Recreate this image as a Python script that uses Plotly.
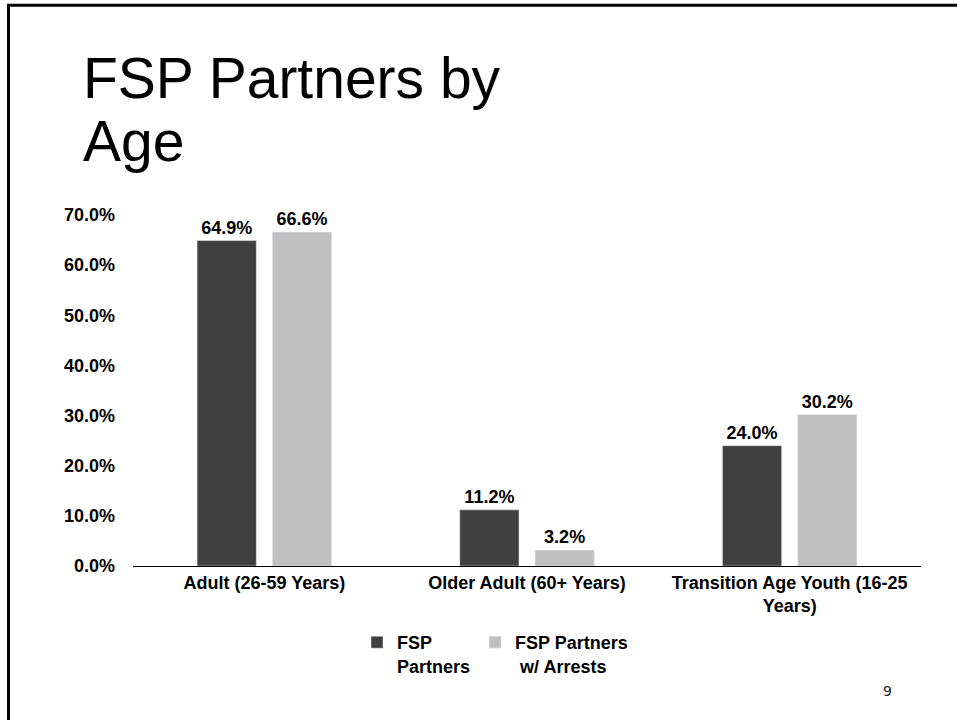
import plotly.graph_objects as go

# data
categories = ["Adult (26-59 Years)", "Older Adult (60+ Years)", "Transition Age Youth (16-25<br>Years)"]
fsp_partners = [64.9, 11.2, 24.0]
fsp_arrests = [66.6, 3.2, 30.2]
y_ticks = [0, 10, 20, 30, 40, 50, 60, 70]
y_tick_labels = ["%.1f%%" % v for v in y_ticks]

W, H = 957, 720
L, R, T, B = 133, 921, 215, 566  # plot area in pixels

def px_x(x):
    return (x - L) / (R - L)

def px_y(y):
    return (B - y) / (B - T)

FONT = "Liberation Sans, Arial"
bold18 = dict(family=FONT, size=18, color="black", weight="bold")

fig = go.Figure()
fig.add_trace(go.Bar(
    x=categories, y=fsp_partners, name="FSP<br>Partners",
    marker_color="#404040",
    text=["%.1f%%" % v for v in fsp_partners], textposition="outside",
    textfont=bold18, cliponaxis=False,
))
fig.add_trace(go.Bar(
    x=categories, y=fsp_arrests, name="FSP Partners<br> w/ Arrests",
    marker_color="#C0C0C0",
    text=["%.1f%%" % v for v in fsp_arrests], textposition="outside",
    textfont=bold18, cliponaxis=False,
))

fig.update_layout(
    width=W, height=H,
    margin=dict(l=L, r=W - R, t=T, b=H - B),
    paper_bgcolor="white", plot_bgcolor="white",
    barmode="group", bargap=0.427, bargroupgap=0.213,
    font=dict(family=FONT, size=18, color="black"),
    showlegend=True,
    legend=dict(
        orientation="h", x=px_x(495), xanchor="center", y=px_y(624), yanchor="top",
        font=bold18, valign="top", itemwidth=30, traceorder="normal",
    ),
)
fig.update_xaxes(
    showline=True, linecolor="black", linewidth=1, showgrid=False,
    tickfont=bold18,
)
fig.update_yaxes(
    range=[0, 70], tickvals=y_ticks, ticktext=y_tick_labels,
    showgrid=False, zeroline=False, showline=False,
    tickfont=bold18, ticklabelstandoff=17,
)

# title (two lines, set by hand for the tight slide spacing)
for txt, base in [("FSP Partners by", 100), ("Age", 163)]:
    fig.add_annotation(
        text=txt, xref="paper", yref="paper", x=px_x(81), y=px_y(base + 12),
        xanchor="left", yanchor="bottom", showarrow=False,
        font=dict(family=FONT, size=57, color="black"),
    )

# slide number
fig.add_annotation(
    text="9", xref="paper", yref="paper", x=px_x(887), y=px_y(691),
    xanchor="center", yanchor="middle", showarrow=False,
    font=dict(family="DejaVu Sans", size=14, color="#222222"),
)

# slide border (left and top edges)
fig.add_shape(type="line", xref="paper", yref="paper",
              x0=px_x(8.5), y0=px_y(H + 5), x1=px_x(8.5), y1=px_y(5),
              line=dict(color="black", width=3))
fig.add_shape(type="line", xref="paper", yref="paper",
              x0=px_x(7), y0=px_y(5.3), x1=px_x(W + 5), y1=px_y(5.3),
              line=dict(color="black", width=3))

fig.write_html("out.html", config={"displayModeBar": False},
               post_script="document.body.style.margin='0';")
